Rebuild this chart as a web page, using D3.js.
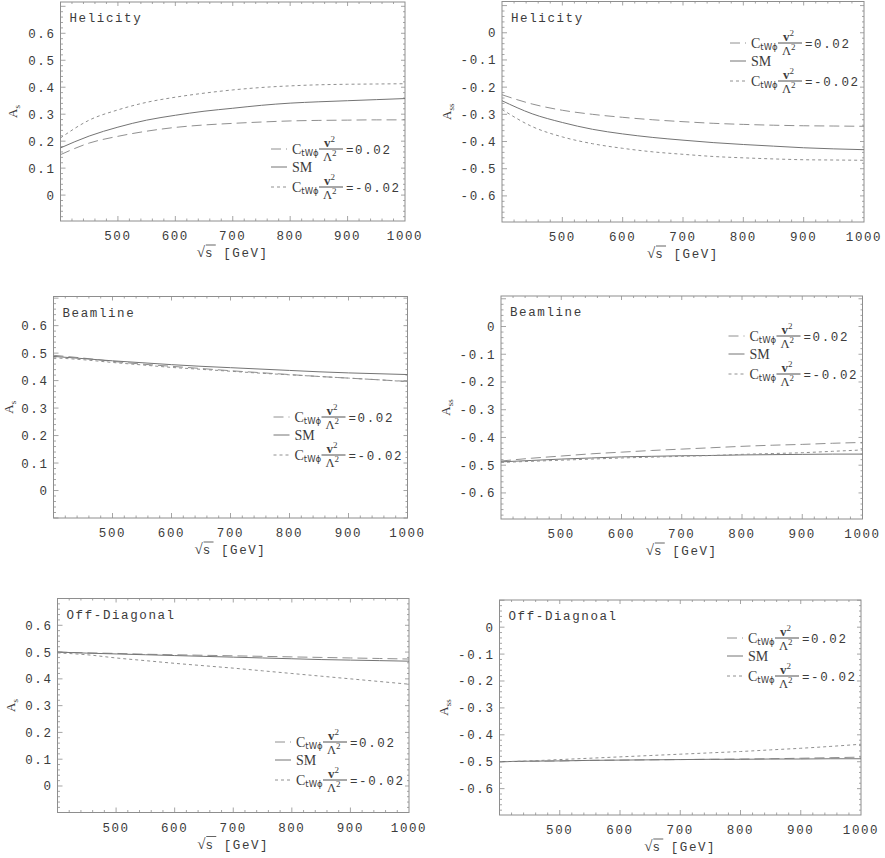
<!DOCTYPE html>
<html>
<head>
<meta charset="utf-8">
<script src="https://cdn.jsdelivr.net/npm/d3@7"></script>
<style>
  body { margin: 0; background: #fff; }
  svg { display: block; }
  .mono { font-family: "Liberation Mono", "DejaVu Sans Mono", monospace; letter-spacing: 1.6px; }
  .serif { font-family: "Liberation Serif", "DejaVu Serif", serif; }
</style>
</head>
<body>
<div id="chart"></div>
<script>
// sqrt(s) in GeV
const energies = [400, 450, 500, 550, 600, 650, 700, 750, 800, 850, 900, 950, 1000];

// Helicity basis
const helicityAsSM    = [0.175, 0.219, 0.252, 0.278, 0.296, 0.311, 0.322, 0.333, 0.341, 0.346, 0.350, 0.354, 0.358];
const helicityAsPlus  = [0.150, 0.193, 0.218, 0.237, 0.251, 0.260, 0.266, 0.271, 0.275, 0.277, 0.278, 0.279, 0.279];
const helicityAsMinus = [0.212, 0.278, 0.316, 0.344, 0.363, 0.378, 0.390, 0.399, 0.405, 0.409, 0.411, 0.412, 0.413];
const helicityAssSM    = [-0.250, -0.298, -0.330, -0.355, -0.372, -0.385, -0.395, -0.404, -0.411, -0.417, -0.423, -0.427, -0.430];
const helicityAssPlus  = [-0.228, -0.262, -0.285, -0.300, -0.311, -0.320, -0.327, -0.333, -0.337, -0.340, -0.342, -0.343, -0.344];
const helicityAssMinus = [-0.282, -0.345, -0.383, -0.408, -0.425, -0.438, -0.447, -0.455, -0.460, -0.464, -0.467, -0.468, -0.469];

// Beamline basis
const beamlineAsSM    = [0.488, 0.480, 0.472, 0.465, 0.458, 0.452, 0.447, 0.442, 0.437, 0.432, 0.428, 0.425, 0.422];
const beamlineAsPlus  = [0.492, 0.482, 0.470, 0.460, 0.452, 0.444, 0.436, 0.429, 0.422, 0.415, 0.409, 0.403, 0.397];
const beamlineAsMinus = [0.483, 0.476, 0.466, 0.457, 0.448, 0.441, 0.434, 0.427, 0.421, 0.415, 0.409, 0.403, 0.396];
const beamlineAssSM    = [-0.488, -0.483, -0.478, -0.474, -0.470, -0.468, -0.466, -0.465, -0.463, -0.462, -0.461, -0.460, -0.460];
const beamlineAssPlus  = [-0.485, -0.475, -0.467, -0.459, -0.453, -0.447, -0.442, -0.437, -0.432, -0.428, -0.425, -0.421, -0.418];
const beamlineAssMinus = [-0.490, -0.486, -0.482, -0.478, -0.474, -0.471, -0.468, -0.465, -0.461, -0.458, -0.455, -0.450, -0.445];

// Off-diagonal basis
const offdiagAsSM    = [0.500, 0.496, 0.493, 0.490, 0.487, 0.484, 0.481, 0.478, 0.475, 0.472, 0.470, 0.468, 0.466];
const offdiagAsPlus  = [0.500, 0.497, 0.495, 0.492, 0.490, 0.488, 0.486, 0.484, 0.482, 0.480, 0.478, 0.476, 0.474];
const offdiagAsMinus = [0.497, 0.490, 0.478, 0.468, 0.458, 0.449, 0.440, 0.430, 0.420, 0.410, 0.400, 0.390, 0.380];
const offdiagAssSM    = [-0.500, -0.498, -0.497, -0.495, -0.494, -0.493, -0.492, -0.491, -0.491, -0.490, -0.490, -0.489, -0.489];
const offdiagAssPlus  = [-0.500, -0.498, -0.497, -0.495, -0.494, -0.493, -0.492, -0.491, -0.490, -0.489, -0.487, -0.485, -0.483];
const offdiagAssMinus = [-0.500, -0.497, -0.492, -0.487, -0.482, -0.477, -0.472, -0.467, -0.462, -0.456, -0.450, -0.443, -0.435];

// tick labels
const xTicks = [500, 600, 700, 800, 900, 1000];
const yTicksAs = [0, 0.1, 0.2, 0.3, 0.4, 0.5, 0.6];
const yTicksAss = [0, -0.1, -0.2, -0.3, -0.4, -0.5, -0.6];
const legendLabels = ["=0.02", "SM", "=-0.02"];

// panel layout: frame box, y range, legend top row
const panels = [
  {title: "Helicity", ylab: "s", sm: helicityAsSM, plus: helicityAsPlus, minus: helicityAsMinus, ticks: yTicksAs,
   x0: 60.5, x1: 405, y0: 2, y1: 221, ydom: [-0.096, 0.716], leg: 149, ylx: 13},
  {title: "Helicity", ylab: "ss", sm: helicityAssSM, plus: helicityAssPlus, minus: helicityAssMinus, ticks: yTicksAss,
   x0: 502, x1: 864, y0: 1.5, y1: 222, ydom: [-0.696, 0.115], leg: 43, ylx: 447},
  {title: "Beamline", ylab: "s", sm: beamlineAsSM, plus: beamlineAsPlus, minus: beamlineAsMinus, ticks: yTicksAs,
   x0: 53.5, x1: 407.5, y0: 296.5, y1: 518, ydom: [-0.1, 0.706], leg: 417, ylx: 9},
  {title: "Beamline", ylab: "ss", sm: beamlineAssSM, plus: beamlineAssPlus, minus: beamlineAssMinus, ticks: yTicksAss,
   x0: 501, x1: 862.5, y0: 296, y1: 519, ydom: [-0.694, 0.11], leg: 336, ylx: 446},
  {title: "Off-Diagonal", ylab: "s", sm: offdiagAsSM, plus: offdiagAsPlus, minus: offdiagAsMinus, ticks: yTicksAs,
   x0: 57.5, x1: 409, y0: 598.5, y1: 812.5, ydom: [-0.099, 0.70], leg: 742, ylx: 11},
  {title: "Off-Diagnoal", ylab: "ss", sm: offdiagAssSM, plus: offdiagAssPlus, minus: offdiagAssMinus, ticks: yTicksAss,
   x0: 499.5, x1: 861, y0: 600, y1: 815, ydom: [-0.698, 0.101], leg: 638, ylx: 444}
];

const W = 885, H = 858;
const svg = d3.select("#chart").append("svg").attr("width", W).attr("height", H);

const frameColor = "#8e8e8e", textColor = "#3c3c3c";
const styles = {
  plus:  {stroke: "#909090", dash: "10,5"},
  sm:    {stroke: "#747474", dash: null},
  minus: {stroke: "#909090", dash: "3,3"}
};

function fmt(v) {
  if (Math.abs(v) < 1e-9) return "0";
  return v.toFixed(1).replace("\u2212", "-");
}

panels.forEach(function(p) {
  const g = svg.append("g");
  const x = d3.scaleLinear().domain([400, 1000]).range([p.x0, p.x1]);
  const y = d3.scaleLinear().domain(p.ydom).range([p.y1, p.y0]);

  // minor / major ticks on all four sides, pointing inward
  const xMinor = d3.range(420, 1000, 20);
  const yMinor = d3.range(Math.ceil(p.ydom[0] / 0.02) * 0.02, p.ydom[1], 0.02);
  const isMajor = (v, step) => Math.abs(v / step - Math.round(v / step)) < 1e-6;

  g.selectAll(".xt").data(xMinor).join("line")
    .attr("x1", d => x(d)).attr("x2", d => x(d))
    .attr("y1", p.y1).attr("y2", d => p.y1 - (isMajor(d, 100) ? 5 : 2.5))
    .attr("stroke", frameColor).attr("stroke-width", 0.8);
  g.selectAll(".xtt").data(xMinor).join("line")
    .attr("x1", d => x(d)).attr("x2", d => x(d))
    .attr("y1", p.y0).attr("y2", d => p.y0 + (isMajor(d, 100) ? 4 : 2))
    .attr("stroke", frameColor).attr("stroke-width", 0.8);
  g.selectAll(".yt").data(yMinor).join("line")
    .attr("y1", d => y(d)).attr("y2", d => y(d))
    .attr("x1", p.x0).attr("x2", d => p.x0 + (isMajor(d, 0.1) ? 5 : 2.5))
    .attr("stroke", frameColor).attr("stroke-width", 0.8);
  g.selectAll(".ytr").data(yMinor).join("line")
    .attr("y1", d => y(d)).attr("y2", d => y(d))
    .attr("x1", p.x1).attr("x2", d => p.x1 - (isMajor(d, 0.1) ? 4 : 2))
    .attr("stroke", frameColor).attr("stroke-width", 0.8);

  // frame
  g.append("rect").attr("x", p.x0).attr("y", p.y0)
    .attr("width", p.x1 - p.x0).attr("height", p.y1 - p.y0)
    .attr("fill", "none").attr("stroke", frameColor).attr("stroke-width", 1);

  // tick labels
  g.selectAll(".xl").data(xTicks).join("text").attr("class", "mono")
    .attr("x", d => x(d)).attr("y", p.y1 + 19).attr("text-anchor", "middle")
    .attr("font-size", 12.5).attr("fill", textColor).text(d => d);
  g.selectAll(".yl").data(p.ticks).join("text").attr("class", "mono")
    .attr("x", p.x0 - 5).attr("y", d => y(d) + 4.5).attr("text-anchor", "end")
    .attr("font-size", 12.5).attr("fill", textColor).text(d => fmt(d));

  // x label: sqrt(s) [GeV]
  const cx = (p.x0 + p.x1) / 2, by = p.y1 + 36;
  const xl = g.append("text").attr("y", by).attr("fill", textColor).attr("font-size", 12.5);
  xl.append("tspan").attr("class", "serif").attr("font-size", 15).text("\u221A");
  xl.append("tspan").attr("class", "mono").text("s  [GeV]");
  const len = xl.node().getComputedTextLength();
  xl.attr("x", cx - len / 2);
  g.append("line").attr("x1", cx - len / 2 + 9).attr("x2", cx - len / 2 + 19)
    .attr("y1", by - 12).attr("y2", by - 12).attr("stroke", textColor).attr("stroke-width", 0.8);

  // y label
  const yl = g.append("text").attr("class", "serif").attr("fill", textColor)
    .attr("transform", `translate(${p.ylx + 4},${(p.y0 + p.y1) / 2}) rotate(-90)`)
    .attr("text-anchor", "middle");
  yl.append("tspan").attr("font-size", 13).text("A");
  yl.append("tspan").attr("font-size", 9).attr("dy", 3).text(p.ylab);

  // title
  g.append("text").attr("class", "mono").attr("x", p.x0 + 9).attr("y", p.y0 + 20)
    .attr("font-size", 12.5).attr("fill", textColor).text(p.title);

  // curves
  const line = d3.line().x((d, i) => x(energies[i])).y(d => y(d)).curve(d3.curveMonotoneX);
  [["plus", p.plus], ["sm", p.sm], ["minus", p.minus]].forEach(function([k, vals]) {
    g.append("path").datum(vals).attr("d", line)
      .attr("fill", "none").attr("stroke", styles[k].stroke).attr("stroke-width", 1)
      .attr("stroke-dasharray", styles[k].dash);
  });

  // legend
  const lx = p.x1 - 134, rows = [p.leg, p.leg + 18, p.leg + 38];
  ["plus", "sm", "minus"].forEach(function(k, i) {
    const cy = rows[i];
    g.append("line").attr("x1", lx).attr("x2", lx + 16).attr("y1", cy).attr("y2", cy)
      .attr("stroke", styles[k].stroke).attr("stroke-width", 1).attr("stroke-dasharray", styles[k].dash);
    if (k === "sm") {
      g.append("text").attr("class", "serif").attr("x", lx + 21).attr("y", cy + 5)
        .attr("font-size", 14).attr("fill", textColor).text(legendLabels[i]);
      return;
    }
    const c = g.append("text").attr("class", "serif").attr("x", lx + 21).attr("y", cy + 5)
      .attr("font-size", 14).attr("fill", textColor);
    c.append("tspan").text("C");
    c.append("tspan").attr("font-size", 8.5).attr("dy", 2).attr("font-family", "DejaVu Sans").text("tW\u03D5");
    const fx = lx + 48;
    g.append("line").attr("x1", fx).attr("x2", fx + 24).attr("y1", cy).attr("y2", cy)
      .attr("stroke", textColor).attr("stroke-width", 0.9);
    const num = g.append("text").attr("class", "serif").attr("x", fx + 5).attr("y", cy - 2.5)
      .attr("font-size", 13).attr("font-weight", "bold").attr("fill", textColor);
    num.append("tspan").text("v");
    num.append("tspan").attr("font-size", 9).attr("font-weight", "normal").attr("dy", -5).text("2");
    const den = g.append("text").attr("class", "serif").attr("x", fx + 4).attr("y", cy + 12)
      .attr("font-size", 12.5).attr("fill", textColor);
    den.append("tspan").text("\u039B");
    den.append("tspan").attr("font-size", 9).attr("dy", -5).text("2");
    g.append("text").attr("class", "mono").attr("x", fx + 27).attr("y", cy + 4.5)
      .attr("font-size", 12.5).attr("fill", textColor).text(legendLabels[i]);
  });
});
</script>
</body>
</html>
